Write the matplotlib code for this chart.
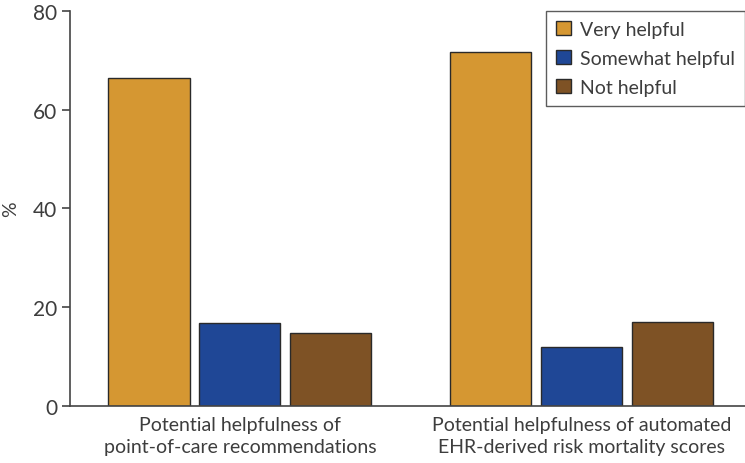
import matplotlib
matplotlib.use("Agg")
import matplotlib.pyplot as plt
import numpy as np

categories = ["Potential helpfulness of\npoint-of-care recommendations",
              "Potential helpfulness of automated\nEHR-derived risk mortality scores"]
series_names = ["Very helpful", "Somewhat helpful", "Not helpful"]
values = {
    "Very helpful": [66.4, 71.7],
    "Somewhat helpful": [16.8, 11.9],
    "Not helpful": [14.8, 17.0],
}
colors = ["#D59732", "#1F4796", "#7E5225"]
yticks = [0, 20, 40, 60, 80]

plt.rcParams['font.family'] = ['Lato', 'DejaVu Sans']
txtc = "#3d3d3d"

fig = plt.figure(figsize=(7.45, 4.64), dpi=100)
ax = fig.add_axes([0.094, 0.123, 0.906, 0.851])

x = np.arange(len(categories))
width = 0.237
step = 0.266
for i, name in enumerate(series_names):
    ax.bar(x + (i - 1) * step, values[name], width, color=colors[i],
           edgecolor="#2a2a2a", linewidth=1.0, label=name)

ax.set_xlim(-0.497, 1.477)
ax.set_ylim(0, 80)
ax.set_yticks(yticks)
ax.set_xticks(x)
ax.set_xticklabels(categories, fontsize=14, color=txtc, linespacing=1.35)
ax.tick_params(axis="x", length=0, pad=7)
ax.tick_params(axis="y", labelsize=15, length=6, width=1.2, pad=3,
               color="#444444", labelcolor=txtc)
ax.set_ylabel("%", fontsize=14, color=txtc)
ax.yaxis.set_label_coords(-0.075, 0.5)
for s in ["top", "right"]:
    ax.spines[s].set_visible(False)
for s in ["left", "bottom"]:
    ax.spines[s].set_color("#444444")
    ax.spines[s].set_linewidth(1.2)

leg = ax.legend(loc="upper right", bbox_to_anchor=(1.0, 1.0), fontsize=14,
                frameon=True, fancybox=False, edgecolor="#333333",
                handlelength=0.75, handleheight=0.75, handletextpad=0.5,
                borderpad=0.5, labelspacing=0.62, borderaxespad=0.0)
leg.get_frame().set_linewidth(1.0)
for t in leg.get_texts():
    t.set_color(txtc)

fig.savefig("out.png", dpi=100)
